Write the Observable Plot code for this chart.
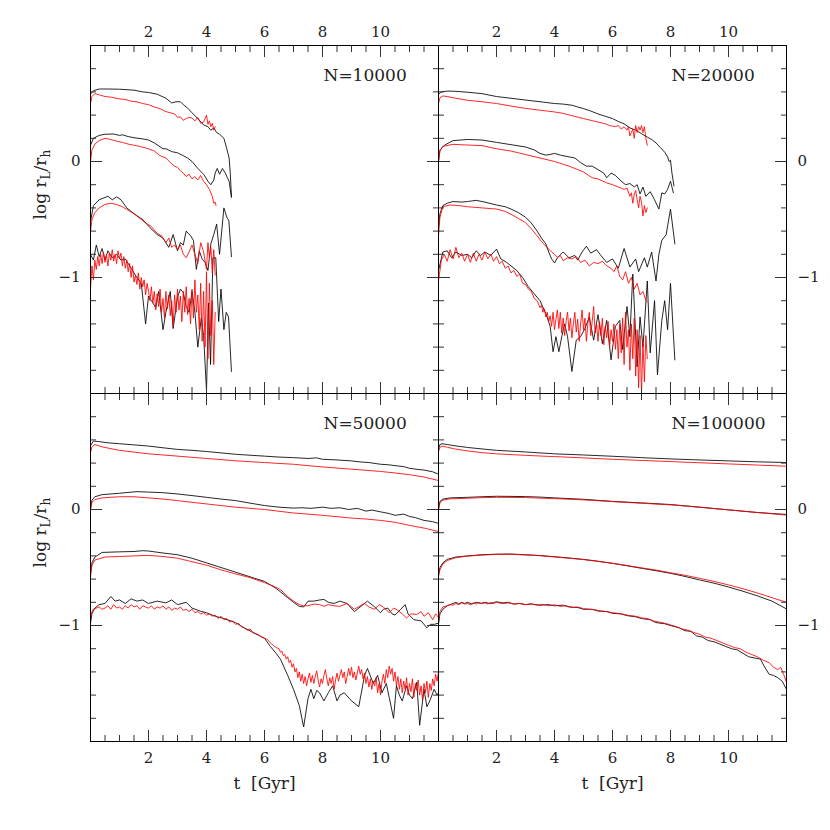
<!DOCTYPE html>
<html>
<head>
<meta charset="utf-8">
<script src="https://cdn.jsdelivr.net/npm/d3@7"></script>
<script src="https://cdn.jsdelivr.net/npm/@observablehq/plot@0.6"></script>
<style>
  body { margin: 0; background: #fff; }
</style>
</head>
<body>
<script>
// ---------- panel / tick metadata ----------
const panelLabels = ["N=10000", "N=20000", "N=50000", "N=100000"];
const panelCol = [0, 1, 0, 1];
const panelRow = [0, 0, 1, 1];
const xMajorTicks = [2, 4, 6, 8, 10];
const xMinorTicks = [0.5, 1, 1.5, 2.5, 3, 3.5, 4.5, 5, 5.5, 6.5, 7, 7.5, 8.5, 9, 9.5, 10.5, 11, 11.5];
const yMajorTicks = [0, -1];
const yMinorTicks = [0.8, 0.6, 0.4, 0.2, -0.2, -0.4, -0.6, -0.8, -1.2, -1.4, -1.6, -1.8];

// ---------- N=10000 : [t (Gyr), log rL/rh] ----------
const b10k_1 = [[0,0.58],[0.1,0.61],[0.3,0.625],[0.6,0.625],[1,0.623],[1.5,0.615],[1.8,0.6],[2,0.595],[2.3,0.58],[2.6,0.545],[2.8,0.505],[2.95,0.515],[3.1,0.515],[3.2,0.49],[3.35,0.46],[3.5,0.42],[3.7,0.37],[3.9,0.315],[4.05,0.3],[4.15,0.27],[4.25,0.29],[4.35,0.25],[4.45,0.235],[4.6,0.2],[4.7,0.11],[4.78,0.03],[4.82,-0.1],[4.86,-0.3]];
const r10k_1 = [[0,0.5],[0.05,0.56],[0.15,0.585],[0.3,0.575],[0.5,0.56],[0.7,0.555],[1,0.54],[1.2,0.535],[1.4,0.52],[1.6,0.515],[1.8,0.5],[2,0.49],[2.2,0.47],[2.4,0.455],[2.6,0.43],[2.75,0.42],[2.9,0.41],[3.0,0.38],[3.1,0.385],[3.2,0.355],[3.3,0.37],[3.4,0.38],[3.5,0.375],[3.6,0.35],[3.7,0.38],[3.8,0.33],[3.9,0.34],[4.0,0.4],[4.05,0.32],[4.1,0.35],[4.15,0.3],[4.2,0.33],[4.25,0.27],[4.3,0.3]];
const b10k_2 = [[0,0.14],[0.1,0.2],[0.3,0.225],[0.5,0.235],[0.8,0.237],[1,0.225],[1.1,0.23],[1.3,0.215],[1.5,0.205],[1.8,0.195],[2,0.185],[2.2,0.16],[2.5,0.11],[2.6,0.11],[2.8,0.085],[3.0,0.075],[3.2,0.05],[3.35,0.03],[3.5,0.0],[3.7,-0.06],[3.9,-0.11],[4.05,-0.17],[4.15,-0.2],[4.25,-0.16],[4.3,-0.1],[4.37,-0.06],[4.45,-0.11],[4.55,-0.06],[4.65,-0.1],[4.72,-0.14],[4.78,-0.17],[4.86,-0.31]];
const r10k_2 = [[0,0.0],[0.05,0.1],[0.15,0.15],[0.3,0.18],[0.5,0.2],[0.7,0.19],[0.9,0.175],[1.1,0.165],[1.3,0.15],[1.5,0.14],[1.7,0.13],[2,0.11],[2.2,0.09],[2.4,0.05],[2.6,0.03],[2.8,-0.02],[2.9,-0.04],[3.0,-0.05],[3.1,-0.08],[3.2,-0.1],[3.3,-0.13],[3.4,-0.11],[3.5,-0.15],[3.6,-0.13],[3.7,-0.16],[3.8,-0.12],[3.9,-0.17],[4.0,-0.2],[4.1,-0.24],[4.2,-0.3],[4.25,-0.36],[4.3,-0.35],[4.33,-0.38]];
const b10k_3 = [[0,-0.52],[0.1,-0.38],[0.3,-0.33],[0.5,-0.31],[0.6,-0.3],[0.75,-0.33],[0.9,-0.305],[1.05,-0.33],[1.25,-0.4],[1.5,-0.45],[1.8,-0.5],[2.05,-0.57],[2.3,-0.63],[2.5,-0.66],[2.7,-0.74],[2.85,-0.63],[3.0,-0.77],[3.1,-0.7],[3.2,-0.72],[3.3,-0.6],[3.45,-0.64],[3.55,-0.68],[3.65,-0.93],[3.75,-0.77],[3.85,-0.84],[3.95,-0.87],[4.05,-0.94],[4.15,-0.71],[4.25,-0.63],[4.35,-0.54],[4.45,-0.8],[4.6,-0.4],[4.7,-0.48],[4.77,-0.51],[4.86,-0.82]];
const r10k_3 = [[0,-0.6],[0.05,-0.5],[0.15,-0.44],[0.3,-0.4],[0.5,-0.37],[0.7,-0.36],[0.9,-0.37],[1.1,-0.39],[1.3,-0.42],[1.5,-0.45],[1.7,-0.49],[1.9,-0.53],[2.1,-0.56],[2.3,-0.62],[2.45,-0.64],[2.6,-0.7],[2.7,-0.66],[2.8,-0.74],[2.9,-0.72],[3.0,-0.76],[3.1,-0.72],[3.2,-0.8],[3.3,-0.83],[3.4,-0.78],[3.5,-0.72],[3.6,-0.8],[3.7,-0.88],[3.8,-0.7],[3.9,-0.78],[4.0,-0.93],[4.05,-0.7],[4.1,-0.83],[4.15,-0.74],[4.2,-0.96],[4.25,-0.76],[4.3,-0.98]];
const b10k_4 = [[0,-0.8],[0.1,-0.85],[0.2,-0.72],[0.3,-0.82],[0.4,-0.75],[0.5,-0.85],[0.6,-0.77],[0.75,-0.83],[0.9,-0.8],[1.05,-0.85],[1.2,-0.84],[1.4,-0.92],[1.6,-1.0],[1.75,-1.05],[1.9,-1.4],[2.0,-1.16],[2.1,-1.2],[2.25,-1.26],[2.35,-1.12],[2.5,-1.45],[2.6,-1.3],[2.75,-1.12],[2.85,-1.44],[3.0,-1.17],[3.1,-1.1],[3.2,-1.13],[3.3,-1.25],[3.4,-1.3],[3.5,-1.12],[3.6,-1.3],[3.7,-1.6],[3.82,-1.35],[3.9,-1.5],[4.0,-1.98],[4.07,-1.22],[4.14,-1.75],[4.22,-0.83],[4.32,-0.83],[4.42,-1.38],[4.5,-1.1],[4.6,-1.45],[4.68,-1.3],[4.76,-1.34],[4.86,-1.81]];
const r10k_4 = [[0,-1.1],[0.05,-0.9],[0.1,-1.02],[0.15,-0.85],[0.2,-0.93],[0.25,-0.82],[0.3,-0.9],[0.35,-0.8],[0.4,-0.88],[0.45,-0.78],[0.5,-0.87],[0.55,-0.8],[0.6,-0.9],[0.65,-0.79],[0.7,-0.85],[0.75,-0.76],[0.8,-0.86],[0.85,-0.8],[0.9,-0.88],[0.95,-0.77],[1.0,-0.84],[1.05,-0.79],[1.1,-0.9],[1.15,-0.82],[1.2,-0.92],[1.25,-0.85],[1.3,-0.95],[1.35,-0.88],[1.4,-1.0],[1.45,-0.9],[1.5,-1.04],[1.55,-0.98],[1.6,-1.06],[1.65,-0.96],[1.7,-1.1],[1.75,-1.0],[1.8,-1.08],[1.85,-1.02],[1.9,-1.15],[1.95,-1.05],[2.0,-1.12],[2.05,-1.2],[2.1,-1.08],[2.15,-1.22],[2.2,-1.12],[2.25,-1.28],[2.3,-1.14],[2.35,-1.25],[2.4,-1.1],[2.45,-1.3],[2.5,-1.18],[2.55,-1.35],[2.6,-1.12],[2.65,-1.27],[2.7,-1.15],[2.75,-1.33],[2.8,-1.2],[2.85,-1.42],[2.9,-1.15],[2.95,-1.3],[3.0,-1.1],[3.05,-1.28],[3.1,-1.16],[3.15,-1.38],[3.2,-1.12],[3.25,-1.3],[3.3,-1.08],[3.35,-1.32],[3.4,-1.18],[3.45,-1.4],[3.5,-1.1],[3.55,-1.35],[3.6,-1.02],[3.65,-1.3],[3.7,-1.15],[3.75,-1.45],[3.8,-1.05],[3.85,-1.55],[3.9,-1.12],[3.95,-1.6],[4.0,-0.95],[4.05,-1.7],[4.1,-1.05],[4.15,-1.5],[4.2,-1.2],[4.25,-1.75],[4.3,-1.3]];

// ---------- N=20000 ----------
const b20k_1 = [[0,0.58],[0.1,0.6],[0.3,0.607],[0.6,0.605],[1,0.597],[1.5,0.585],[2,0.56],[2.5,0.545],[3,0.53],[3.5,0.515],[4,0.5],[4.3,0.495],[4.6,0.485],[4.8,0.47],[5,0.456],[5.25,0.435],[5.5,0.41],[5.75,0.39],[6,0.37],[6.2,0.345],[6.4,0.325],[6.6,0.29],[6.8,0.27],[7.0,0.24],[7.2,0.21],[7.35,0.19],[7.5,0.16],[7.65,0.12],[7.8,0.08],[7.9,0.04],[7.95,0.0],[8.0,0.01],[8.05,-0.1],[8.12,-0.21]];
const r20k_1 = [[0,0.5],[0.05,0.55],[0.15,0.565],[0.3,0.56],[0.6,0.545],[1,0.528],[1.5,0.515],[2,0.5],[2.5,0.478],[3,0.458],[3.5,0.442],[4,0.427],[4.3,0.415],[4.6,0.395],[5,0.37],[5.25,0.355],[5.5,0.34],[5.75,0.325],[5.9,0.31],[6.0,0.305],[6.1,0.3],[6.2,0.31],[6.3,0.28],[6.4,0.3],[6.5,0.27],[6.55,0.3],[6.6,0.22],[6.65,0.25],[6.7,0.28],[6.75,0.2],[6.8,0.31],[6.85,0.25],[6.9,0.3],[6.95,0.27],[7.0,0.31],[7.05,0.25],[7.1,0.3],[7.15,0.2],[7.2,0.14]];
const b20k_2 = [[0,0.0],[0.05,0.1],[0.2,0.14],[0.5,0.18],[1.0,0.19],[1.5,0.185],[2,0.165],[2.5,0.145],[3,0.125],[3.3,0.1],[3.5,0.07],[3.7,0.055],[3.85,0.06],[4.0,0.07],[4.2,0.055],[4.5,0.04],[4.7,0.03],[4.9,-0.01],[5.1,-0.04],[5.3,-0.04],[5.5,-0.07],[5.7,-0.1],[5.8,-0.14],[5.95,-0.1],[6.1,-0.12],[6.3,-0.17],[6.45,-0.2],[6.6,-0.19],[6.75,-0.22],[6.85,-0.2],[6.95,-0.28],[7.05,-0.22],[7.15,-0.3],[7.3,-0.26],[7.45,-0.33],[7.6,-0.41],[7.7,-0.27],[7.8,-0.28],[7.9,-0.24],[8.0,-0.17],[8.1,-0.27]];
const r20k_2 = [[0,0.0],[0.05,0.09],[0.15,0.13],[0.5,0.148],[1,0.142],[1.5,0.137],[2,0.11],[2.5,0.09],[3,0.06],[3.5,0.03],[4,0.0],[4.5,-0.04],[4.8,-0.07],[5.0,-0.09],[5.3,-0.14],[5.5,-0.15],[5.8,-0.185],[6.0,-0.2],[6.2,-0.22],[6.4,-0.24],[6.5,-0.23],[6.6,-0.3],[6.65,-0.27],[6.7,-0.36],[6.75,-0.28],[6.8,-0.25],[6.85,-0.33],[6.9,-0.4],[6.95,-0.3],[7.0,-0.35],[7.05,-0.47],[7.1,-0.38],[7.15,-0.44],[7.2,-0.4]];
const b20k_3 = [[0,-0.57],[0.05,-0.45],[0.15,-0.38],[0.3,-0.36],[0.5,-0.345],[0.8,-0.35],[1.0,-0.345],[1.3,-0.335],[1.6,-0.35],[2.0,-0.375],[2.3,-0.39],[2.5,-0.41],[2.75,-0.44],[3.0,-0.48],[3.2,-0.53],[3.4,-0.6],[3.55,-0.66],[3.7,-0.71],[3.8,-0.78],[3.9,-0.84],[4.0,-0.875],[4.1,-0.83],[4.3,-0.78],[4.5,-0.83],[4.7,-0.81],[4.8,-0.85],[4.95,-0.78],[5.1,-0.73],[5.25,-0.79],[5.45,-0.76],[5.6,-0.81],[5.8,-0.87],[6.0,-0.84],[6.2,-0.92],[6.4,-0.75],[6.6,-0.91],[6.8,-0.84],[6.9,-0.95],[7.1,-0.83],[7.2,-0.91],[7.35,-0.78],[7.5,-1.03],[7.6,-0.8],[7.7,-0.68],[7.85,-0.63],[8.0,-0.41],[8.15,-0.71]];
const r20k_3 = [[0,-0.64],[0.05,-0.48],[0.15,-0.39],[0.4,-0.375],[0.7,-0.38],[1.0,-0.39],[1.5,-0.4],[2.0,-0.41],[2.3,-0.43],[2.5,-0.455],[2.75,-0.49],[3.0,-0.527],[3.2,-0.58],[3.4,-0.64],[3.55,-0.69],[3.7,-0.73],[3.9,-0.78],[4.0,-0.8],[4.1,-0.826],[4.2,-0.81],[4.3,-0.855],[4.45,-0.83],[4.6,-0.84],[4.75,-0.82],[4.9,-0.87],[5.05,-0.85],[5.2,-0.9],[5.35,-0.87],[5.5,-0.88],[5.65,-0.86],[5.8,-0.9],[5.95,-0.92],[6.05,-0.95],[6.15,-0.9],[6.25,-0.99],[6.35,-1.02],[6.45,-0.95],[6.55,-1.05],[6.65,-1.0],[6.75,-1.1],[6.85,-1.05],[6.95,-1.15],[7.05,-1.12],[7.15,-1.2],[7.2,-1.21]];
const b20k_4 = [[0,-0.94],[0.15,-0.78],[0.3,-0.77],[0.45,-0.83],[0.6,-0.78],[0.8,-0.81],[1.0,-0.8],[1.15,-0.83],[1.3,-0.77],[1.45,-0.81],[1.6,-0.78],[1.8,-0.81],[2.0,-0.755],[2.15,-0.84],[2.35,-0.87],[2.5,-0.9],[2.7,-0.94],[2.9,-1.0],[3.1,-1.08],[3.3,-1.14],[3.5,-1.2],[3.7,-1.31],[3.85,-1.42],[3.95,-1.64],[4.05,-1.51],[4.15,-1.64],[4.25,-1.51],[4.35,-1.4],[4.45,-1.51],[4.6,-1.81],[4.75,-1.54],[4.9,-1.51],[5.05,-1.44],[5.2,-1.34],[5.35,-1.54],[5.5,-1.32],[5.65,-1.57],[5.8,-1.37],[5.95,-1.71],[6.1,-1.42],[6.25,-1.37],[6.35,-1.62],[6.5,-1.25],[6.6,-1.51],[6.7,-0.97],[6.85,-1.77],[6.95,-1.34],[7.05,-1.6],[7.2,-1.03],[7.3,-1.65],[7.45,-1.2],[7.55,-1.84],[7.7,-1.37],[7.8,-1.2],[7.9,-1.45],[8.0,-1.05],[8.15,-1.71]];
const r20k_4 = [[0,-1.03],[0.1,-0.85],[0.2,-0.8],[0.3,-0.86],[0.4,-0.76],[0.5,-0.84],[0.6,-0.74],[0.7,-0.83],[0.8,-0.79],[0.9,-0.86],[1.0,-0.8],[1.1,-0.87],[1.2,-0.79],[1.3,-0.86],[1.4,-0.8],[1.5,-0.85],[1.6,-0.78],[1.7,-0.84],[1.8,-0.8],[1.9,-0.86],[2.0,-0.82],[2.1,-0.88],[2.2,-0.86],[2.3,-0.92],[2.4,-0.9],[2.5,-0.96],[2.6,-0.94],[2.7,-0.99],[2.8,-0.97],[2.9,-1.05],[3.0,-1.06],[3.1,-1.1],[3.2,-1.12],[3.3,-1.18],[3.4,-1.2],[3.5,-1.26],[3.55,-1.24],[3.6,-1.3],[3.65,-1.27],[3.7,-1.34],[3.75,-1.3],[3.8,-1.38],[3.85,-1.33],[3.9,-1.42],[3.95,-1.3],[4.0,-1.45],[4.05,-1.36],[4.1,-1.28],[4.15,-1.44],[4.2,-1.3],[4.25,-1.48],[4.3,-1.35],[4.35,-1.5],[4.4,-1.38],[4.45,-1.3],[4.5,-1.46],[4.55,-1.35],[4.6,-1.52],[4.65,-1.4],[4.7,-1.3],[4.75,-1.47],[4.8,-1.36],[4.85,-1.55],[4.9,-1.4],[4.95,-1.28],[5.0,-1.45],[5.05,-1.35],[5.1,-1.55],[5.15,-1.4],[5.2,-1.3],[5.25,-1.5],[5.3,-1.38],[5.35,-1.25],[5.4,-1.48],[5.45,-1.4],[5.5,-1.55],[5.55,-1.38],[5.6,-1.5],[5.65,-1.35],[5.7,-1.58],[5.75,-1.42],[5.8,-1.52],[5.85,-1.38],[5.9,-1.6],[5.95,-1.45],[6.0,-1.55],[6.05,-1.4],[6.1,-1.62],[6.15,-1.45],[6.2,-1.7],[6.25,-1.4],[6.3,-1.65],[6.35,-1.35],[6.4,-1.75],[6.45,-1.3],[6.5,-1.6],[6.55,-1.45],[6.6,-1.8],[6.65,-1.4],[6.7,-1.7],[6.75,-1.35],[6.8,-1.85],[6.85,-1.45],[6.9,-1.95],[6.95,-1.5],[7.0,-2.0],[7.05,-1.55],[7.1,-1.9],[7.15,-1.5],[7.2,-1.7]];

// ---------- N=50000 ----------
const b50k_1 = [[0,0.55],[0.1,0.59],[0.3,0.585],[0.6,0.575],[1,0.567],[1.5,0.557],[2,0.547],[2.5,0.532],[3,0.518],[3.5,0.51],[4,0.5],[4.5,0.488],[5,0.476],[5.5,0.468],[6,0.46],[6.5,0.452],[7,0.447],[7.5,0.44],[7.8,0.445],[8,0.433],[8.5,0.427],[9,0.419],[9.3,0.41],[9.6,0.405],[10,0.39],[10.3,0.385],[10.5,0.378],[10.8,0.37],[11,0.355],[11.3,0.345],[11.5,0.34],[11.8,0.325],[12,0.305]];
const r50k_1 = [[0,0.49],[0.05,0.54],[0.15,0.56],[0.4,0.54],[1,0.51],[1.5,0.495],[2,0.48],[2.5,0.47],[3,0.46],[3.5,0.45],[4,0.44],[4.5,0.43],[5,0.42],[5.5,0.412],[6,0.405],[6.5,0.397],[7,0.39],[7.5,0.378],[8,0.367],[8.5,0.357],[9,0.348],[9.5,0.338],[10,0.328],[10.5,0.315],[11,0.3],[11.5,0.28],[12,0.25]];
const b50k_2 = [[0,0.0],[0.05,0.08],[0.15,0.11],[0.4,0.128],[1,0.14],[1.6,0.154],[2,0.15],[2.5,0.145],[3,0.134],[3.5,0.12],[4,0.105],[4.5,0.09],[5,0.077],[5.5,0.055],[6,0.034],[6.5,0.02],[7,0.012],[7.3,0.015],[7.6,0.01],[8,0.02],[8.3,0.01],[8.6,0.015],[8.9,0.0],[9.2,0.01],[9.5,-0.014],[9.7,-0.005],[10,-0.02],[10.3,-0.035],[10.5,-0.05],[10.8,-0.04],[11,-0.06],[11.2,-0.07],[11.5,-0.094],[11.8,-0.105],[12,-0.12]];
const r50k_2 = [[0,0.0],[0.05,0.06],[0.15,0.085],[0.4,0.1],[1,0.11],[1.5,0.11],[2,0.1],[2.5,0.09],[3,0.077],[3.5,0.062],[4,0.048],[4.5,0.034],[5,0.02],[5.5,0.01],[6,0.0],[6.5,-0.015],[7,-0.03],[7.5,-0.04],[8,-0.05],[8.5,-0.062],[9,-0.074],[9.5,-0.082],[10,-0.094],[10.5,-0.11],[11,-0.137],[11.5,-0.16],[12,-0.19]];
const b50k_3 = [[0,-0.56],[0.05,-0.46],[0.15,-0.41],[0.4,-0.37],[1,-0.365],[1.5,-0.362],[1.8,-0.355],[2,-0.358],[2.5,-0.375],[3,-0.39],[3.5,-0.42],[4,-0.46],[4.5,-0.5],[5,-0.54],[5.5,-0.58],[6,-0.62],[6.2,-0.65],[6.4,-0.68],[6.6,-0.72],[6.8,-0.76],[7.0,-0.8],[7.2,-0.835],[7.35,-0.84],[7.5,-0.79],[7.7,-0.79],[7.9,-0.78],[8.05,-0.775],[8.2,-0.8],[8.4,-0.81],[8.6,-0.79],[8.85,-0.81],[9.1,-0.88],[9.3,-0.84],[9.55,-0.79],[9.8,-0.84],[10.0,-0.89],[10.1,-0.86],[10.25,-0.85],[10.4,-0.9],[10.5,-0.91],[10.7,-0.86],[10.85,-0.82],[10.95,-0.9],[11.15,-0.95],[11.4,-0.96],[11.6,-1.02],[11.72,-0.99],[11.85,-0.99],[12.0,-0.98]];
const r50k_3 = [[0,-0.58],[0.05,-0.48],[0.15,-0.436],[0.5,-0.41],[1,-0.405],[1.5,-0.4],[2,-0.396],[2.5,-0.405],[3,-0.42],[3.5,-0.45],[4,-0.48],[4.5,-0.52],[5,-0.555],[5.5,-0.587],[6,-0.63],[6.3,-0.66],[6.55,-0.69],[6.8,-0.75],[7.0,-0.79],[7.2,-0.82],[7.35,-0.83],[7.5,-0.83],[7.7,-0.815],[7.9,-0.82],[8.05,-0.835],[8.2,-0.82],[8.4,-0.83],[8.6,-0.835],[8.85,-0.81],[9.1,-0.86],[9.3,-0.83],[9.45,-0.81],[9.6,-0.84],[9.8,-0.86],[9.95,-0.82],[10.1,-0.84],[10.3,-0.89],[10.45,-0.85],[10.57,-0.865],[10.75,-0.9],[10.9,-0.935],[11.05,-0.9],[11.25,-0.905],[11.4,-0.88],[11.5,-0.92],[11.65,-0.89],[11.8,-0.95],[11.9,-0.9],[12.0,-0.93]];
const b50k_4 = [[0,-0.98],[0.05,-0.9],[0.15,-0.85],[0.3,-0.82],[0.5,-0.81],[0.7,-0.75],[0.85,-0.79],[1.0,-0.78],[1.2,-0.81],[1.4,-0.77],[1.6,-0.79],[1.8,-0.78],[2.0,-0.81],[2.3,-0.79],[2.6,-0.805],[2.8,-0.78],[3.0,-0.82],[3.3,-0.8],[3.5,-0.85],[3.8,-0.877],[4.0,-0.89],[4.3,-0.92],[4.6,-0.94],[5.0,-0.975],[5.3,-1.02],[5.6,-1.06],[6.0,-1.11],[6.2,-1.18],[6.4,-1.24],[6.55,-1.29],[6.8,-1.43],[7.0,-1.55],[7.2,-1.69],[7.35,-1.875],[7.5,-1.63],[7.6,-1.55],[7.7,-1.63],[7.8,-1.56],[7.9,-1.58],[8.05,-1.65],[8.2,-1.58],[8.35,-1.52],[8.5,-1.65],[8.6,-1.6],[8.75,-1.58],[9.0,-1.65],[9.25,-1.7],[9.45,-1.43],[9.55,-1.37],[9.75,-1.5],[9.9,-1.43],[10.05,-1.58],[10.2,-1.5],[10.3,-1.62],[10.45,-1.8],[10.55,-1.52],[10.65,-1.6],[10.75,-1.65],[10.9,-1.52],[11.0,-1.6],[11.1,-1.63],[11.25,-1.49],[11.35,-1.86],[11.5,-1.55],[11.6,-1.7],[11.7,-1.65],[11.85,-1.55],[11.95,-1.6],[12.0,-1.58]];
const r50k_4 = [[0,-0.95],[0.05,-0.88],[0.1,-0.86],[0.2,-0.85],[0.3,-0.84],[0.4,-0.86],[0.5,-0.85],[0.6,-0.83],[0.7,-0.86],[0.8,-0.82],[0.9,-0.85],[1.0,-0.84],[1.1,-0.86],[1.2,-0.83],[1.3,-0.85],[1.4,-0.82],[1.5,-0.84],[1.6,-0.83],[1.7,-0.86],[1.8,-0.83],[1.9,-0.84],[2.0,-0.85],[2.1,-0.83],[2.2,-0.86],[2.3,-0.84],[2.4,-0.85],[2.5,-0.83],[2.6,-0.86],[2.7,-0.84],[2.8,-0.87],[2.9,-0.85],[3.0,-0.86],[3.1,-0.84],[3.2,-0.87],[3.3,-0.86],[3.4,-0.88],[3.5,-0.86],[3.6,-0.89],[3.7,-0.88],[3.8,-0.9],[3.9,-0.89],[4.0,-0.91],[4.1,-0.9],[4.2,-0.92],[4.3,-0.91],[4.4,-0.94],[4.5,-0.92],[4.6,-0.95],[4.7,-0.94],[4.8,-0.97],[4.9,-0.96],[5.0,-0.99],[5.1,-0.98],[5.2,-1.01],[5.3,-1.02],[5.4,-1.04],[5.5,-1.03],[5.6,-1.06],[5.7,-1.07],[5.8,-1.08],[5.9,-1.1],[6.0,-1.11],[6.1,-1.12],[6.2,-1.15],[6.3,-1.17],[6.4,-1.19],[6.5,-1.2],[6.55,-1.23],[6.6,-1.22],[6.65,-1.26],[6.7,-1.25],[6.75,-1.29],[6.8,-1.27],[6.85,-1.32],[6.9,-1.3],[6.95,-1.36],[7.0,-1.33],[7.05,-1.4],[7.1,-1.37],[7.15,-1.45],[7.2,-1.4],[7.25,-1.48],[7.3,-1.42],[7.35,-1.5],[7.4,-1.44],[7.45,-1.52],[7.5,-1.46],[7.55,-1.41],[7.6,-1.49],[7.65,-1.43],[7.7,-1.5],[7.75,-1.44],[7.8,-1.39],[7.85,-1.47],[7.9,-1.53],[7.95,-1.46],[8.0,-1.5],[8.05,-1.43],[8.1,-1.38],[8.15,-1.46],[8.2,-1.52],[8.25,-1.45],[8.3,-1.5],[8.35,-1.44],[8.4,-1.55],[8.45,-1.47],[8.5,-1.41],[8.55,-1.48],[8.6,-1.43],[8.65,-1.38],[8.7,-1.45],[8.75,-1.4],[8.8,-1.5],[8.85,-1.44],[8.9,-1.37],[8.95,-1.43],[9.0,-1.36],[9.05,-1.45],[9.1,-1.4],[9.15,-1.47],[9.2,-1.41],[9.25,-1.35],[9.3,-1.42],[9.35,-1.38],[9.4,-1.46],[9.45,-1.41],[9.5,-1.5],[9.55,-1.44],[9.6,-1.53],[9.65,-1.46],[9.7,-1.55],[9.75,-1.48],[9.8,-1.52],[9.85,-1.45],[9.9,-1.58],[9.95,-1.5],[10.0,-1.6],[10.05,-1.48],[10.1,-1.42],[10.15,-1.5],[10.2,-1.38],[10.25,-1.45],[10.3,-1.35],[10.35,-1.42],[10.4,-1.37],[10.45,-1.48],[10.5,-1.4],[10.55,-1.52],[10.6,-1.44],[10.65,-1.55],[10.7,-1.46],[10.75,-1.58],[10.8,-1.48],[10.85,-1.55],[10.9,-1.45],[10.95,-1.6],[11.0,-1.5],[11.05,-1.57],[11.1,-1.46],[11.15,-1.62],[11.2,-1.5],[11.25,-1.56],[11.3,-1.47],[11.35,-1.6],[11.4,-1.52],[11.45,-1.64],[11.5,-1.5],[11.55,-1.58],[11.6,-1.48],[11.65,-1.62],[11.7,-1.5],[11.75,-1.56],[11.8,-1.46],[11.85,-1.52],[11.9,-1.42],[11.95,-1.48],[12.0,-1.4]];

// ---------- N=100000 ----------
const b100k_1 = [[0,0.52],[0.05,0.56],[0.12,0.567],[0.3,0.56],[0.6,0.548],[1,0.535],[1.5,0.522],[2,0.51],[2.5,0.503],[3,0.496],[3.5,0.488],[4,0.48],[5,0.47],[6,0.459],[7,0.447],[8,0.436],[9,0.427],[10,0.419],[11,0.411],[12,0.405]];
const r100k_1 = [[0,0.5],[0.05,0.535],[0.12,0.547],[0.3,0.537],[0.6,0.52],[1,0.505],[1.5,0.49],[2,0.48],[2.5,0.473],[3,0.467],[3.5,0.461],[4,0.456],[5,0.445],[6,0.433],[7,0.423],[8,0.413],[9,0.403],[10,0.393],[11,0.383],[12,0.373]];
const b100k_2 = [[0,0.0],[0.05,0.07],[0.15,0.09],[0.4,0.1],[1,0.105],[1.5,0.11],[2,0.114],[2.5,0.113],[3,0.111],[3.5,0.107],[4,0.1],[5,0.088],[6,0.07],[7,0.057],[8,0.043],[9,0.02],[10,-0.003],[11,-0.026],[12,-0.043]];
const r100k_2 = [[0,0.0],[0.05,0.06],[0.15,0.08],[0.4,0.092],[1,0.097],[1.5,0.102],[2,0.105],[2.5,0.104],[3,0.103],[3.5,0.098],[4,0.094],[5,0.083],[6,0.068],[7,0.054],[8,0.04],[9,0.02],[10,-0.003],[11,-0.026],[12,-0.048]];
const b100k_3 = [[0,-0.564],[0.05,-0.5],[0.15,-0.46],[0.3,-0.43],[0.6,-0.41],[1,-0.4],[1.5,-0.39],[2,-0.385],[2.5,-0.384],[3,-0.39],[3.5,-0.397],[4,-0.407],[4.5,-0.418],[5,-0.43],[5.5,-0.446],[6,-0.464],[6.5,-0.485],[7,-0.507],[7.5,-0.528],[8,-0.55],[8.5,-0.577],[9,-0.607],[9.5,-0.635],[10,-0.668],[10.5,-0.705],[11,-0.745],[11.5,-0.79],[12,-0.857]];
const r100k_3 = [[0,-0.58],[0.05,-0.52],[0.15,-0.47],[0.3,-0.44],[0.6,-0.415],[1,-0.402],[1.5,-0.393],[2,-0.387],[2.5,-0.386],[3,-0.392],[3.5,-0.398],[4,-0.409],[4.5,-0.42],[5,-0.432],[5.5,-0.447],[6,-0.464],[6.5,-0.483],[7,-0.503],[7.5,-0.522],[8,-0.545],[8.5,-0.567],[9,-0.593],[9.5,-0.62],[10,-0.65],[10.5,-0.683],[11,-0.72],[11.5,-0.76],[12,-0.8]];
const b100k_4 = [[0,-0.99],[0.05,-0.9],[0.15,-0.86],[0.3,-0.83],[0.45,-0.815],[0.6,-0.8],[0.7,-0.815],[0.8,-0.8],[0.9,-0.81],[1.0,-0.8],[1.15,-0.815],[1.3,-0.8],[1.45,-0.81],[1.6,-0.8],[1.8,-0.812],[2.0,-0.795],[2.2,-0.805],[2.4,-0.8],[2.6,-0.815],[2.8,-0.81],[3.0,-0.82],[3.2,-0.815],[3.5,-0.825],[3.8,-0.82],[4.0,-0.83],[4.3,-0.825],[4.5,-0.84],[4.8,-0.845],[5.0,-0.86],[5.3,-0.86],[5.5,-0.875],[5.8,-0.88],[6.0,-0.895],[6.3,-0.9],[6.5,-0.915],[6.8,-0.925],[7.0,-0.94],[7.3,-0.95],[7.5,-0.975],[7.8,-0.985],[8.0,-1.0],[8.3,-1.02],[8.5,-1.045],[8.7,-1.05],[8.9,-1.09],[9.1,-1.1],[9.3,-1.13],[9.5,-1.14],[9.7,-1.16],[9.9,-1.18],[10.1,-1.2],[10.3,-1.21],[10.5,-1.24],[10.7,-1.27],[10.9,-1.28],[11.1,-1.29],[11.25,-1.36],[11.4,-1.42],[11.55,-1.43],[11.7,-1.45],[11.85,-1.48],[12.0,-1.55]];
const r100k_4 = [[0,-0.97],[0.05,-0.88],[0.15,-0.84],[0.3,-0.83],[0.4,-0.82],[0.5,-0.825],[0.6,-0.81],[0.7,-0.82],[0.8,-0.805],[0.9,-0.815],[1.0,-0.81],[1.1,-0.82],[1.2,-0.805],[1.3,-0.815],[1.4,-0.8],[1.5,-0.812],[1.6,-0.805],[1.7,-0.815],[1.8,-0.8],[1.9,-0.81],[2.0,-0.8],[2.2,-0.812],[2.4,-0.805],[2.6,-0.815],[2.8,-0.81],[3.0,-0.82],[3.2,-0.813],[3.4,-0.825],[3.6,-0.818],[3.8,-0.83],[4.0,-0.822],[4.2,-0.835],[4.4,-0.83],[4.6,-0.845],[4.8,-0.84],[5.0,-0.855],[5.2,-0.86],[5.4,-0.865],[5.6,-0.875],[5.8,-0.88],[6.0,-0.89],[6.2,-0.895],[6.4,-0.905],[6.6,-0.915],[6.8,-0.92],[7.0,-0.935],[7.2,-0.94],[7.4,-0.96],[7.6,-0.97],[7.8,-0.98],[8.0,-0.995],[8.2,-1.01],[8.4,-1.03],[8.6,-1.04],[8.8,-1.06],[9.0,-1.075],[9.2,-1.1],[9.4,-1.11],[9.6,-1.13],[9.8,-1.15],[10.0,-1.17],[10.2,-1.19],[10.4,-1.2],[10.6,-1.23],[10.8,-1.25],[11.0,-1.27],[11.2,-1.3],[11.4,-1.32],[11.55,-1.36],[11.7,-1.38],[11.8,-1.36],[11.9,-1.42],[12.0,-1.49]];

const blackCurves = [
  [b10k_1, b10k_2, b10k_3, b10k_4],
  [b20k_1, b20k_2, b20k_3, b20k_4],
  [b50k_1, b50k_2, b50k_3, b50k_4],
  [b100k_1, b100k_2, b100k_3, b100k_4]
];
const redCurves = [
  [r10k_1, r10k_2, r10k_3, r10k_4],
  [r20k_1, r20k_2, r20k_3, r20k_4],
  [r50k_1, r50k_2, r50k_3, r50k_4],
  [r100k_1, r100k_2, r100k_3, r100k_4]
];

function toRows(sets, model) {
  const out = [];
  sets.forEach((panelSet, p) => panelSet.forEach((curve, c) => curve.forEach(([t, y]) =>
    out.push({t, y, col: panelCol[p], row: panelRow[p], key: `${model}-${p}-${c}`}))));
  return out;
}
const blackRows = toRows(blackCurves, "black");
const redRows = toRows(redCurves, "red");

const fmt = d3.format("d");
const tickColor = "#333";
const textColor = "#222";
const Y_TITLE = "log rL/rh";

const tickMarks = [];
for (const anchor of ["top", "bottom"]) {
  tickMarks.push(Plot.axisX(xMinorTicks, {anchor, facetAnchor: null, tickSize: -6, fill: "none", stroke: tickColor, label: null}));
  tickMarks.push(Plot.axisX(xMajorTicks, {anchor, facetAnchor: null, tickSize: -11, fill: "none", stroke: tickColor, label: null}));
}
for (const anchor of ["left", "right"]) {
  tickMarks.push(Plot.axisY(yMinorTicks, {anchor, facetAnchor: null, tickSize: -6, fill: "none", stroke: tickColor, label: null}));
  tickMarks.push(Plot.axisY(yMajorTicks, {anchor, facetAnchor: null, tickSize: -12, fill: "none", stroke: tickColor, label: null}));
}

const plot = Plot.plot({
  width: 830,
  height: 800,
  marginLeft: 90,
  marginRight: 44,
  marginTop: 44,
  marginBottom: 59,
  style: {fontFamily: "DejaVu Serif", fontSize: "15px", color: textColor, background: "#fff", overflow: "visible"},
  x: {domain: [0, 12]},
  y: {domain: [-2, 1]},
  fx: {domain: [0, 1], padding: 0, axis: null},
  fy: {domain: [0, 1], padding: 0, axis: null},
  marks: [
    Plot.line(blackRows, {x: "t", y: "y", z: "key", fx: "col", fy: "row", stroke: "#000", strokeWidth: 0.85, clip: true}),
    Plot.line(redRows, {x: "t", y: "y", z: "key", fx: "col", fy: "row", stroke: "#ff0000", strokeWidth: 0.85, clip: true}),
    ...tickMarks,
    Plot.frame({stroke: "#000", strokeWidth: 1}),
    Plot.axisX(xMajorTicks, {anchor: "top", facetAnchor: "top", tickSize: 0, tickPadding: 9, label: null, tickFormat: fmt, fill: textColor}),
    Plot.axisX(xMajorTicks, {anchor: "bottom", facetAnchor: "bottom", tickSize: 0, tickPadding: 11, label: null, tickFormat: fmt, fill: textColor}),
    Plot.axisY(yMajorTicks, {anchor: "left", facetAnchor: "left", tickSize: 0, tickPadding: 10, label: null, tickFormat: fmt, fill: textColor}),
    Plot.axisY(yMajorTicks, {anchor: "right", facetAnchor: "right", tickSize: 0, tickPadding: 11, label: null, tickFormat: fmt, fill: textColor}),
    Plot.text(panelLabels, {fx: (d, i) => panelCol[i], fy: (d, i) => panelRow[i], text: d => d, frameAnchor: "top-left", dx: 233, dy: 35, lineAnchor: "bottom", textAnchor: "start", fontSize: 17, fill: textColor}),
    Plot.text([0, 1], {fx: () => 0, fy: d => d, text: () => Y_TITLE, frameAnchor: "left", dx: -50, rotate: -90, fontSize: 17, fill: textColor}),
    Plot.text([0, 1], {fx: d => d, fy: () => 1, text: () => "t  [Gyr]", frameAnchor: "bottom", dy: 47, lineAnchor: "bottom", fontSize: 17, fill: textColor})
  ]
});

// subscripts in the y-axis title
d3.select(plot).selectAll("text")
  .filter(function () { return this.textContent === Y_TITLE; })
  .each(function () {
    const t = d3.select(this);
    t.text(null);
    t.append("tspan").text("log r");
    t.append("tspan").attr("font-size", "12px").attr("dy", "4").text("L");
    t.append("tspan").attr("dy", "-4").text("/r");
    t.append("tspan").attr("font-size", "12px").attr("dy", "4").text("h");
  });

document.body.appendChild(plot);
</script>
</body>
</html>
